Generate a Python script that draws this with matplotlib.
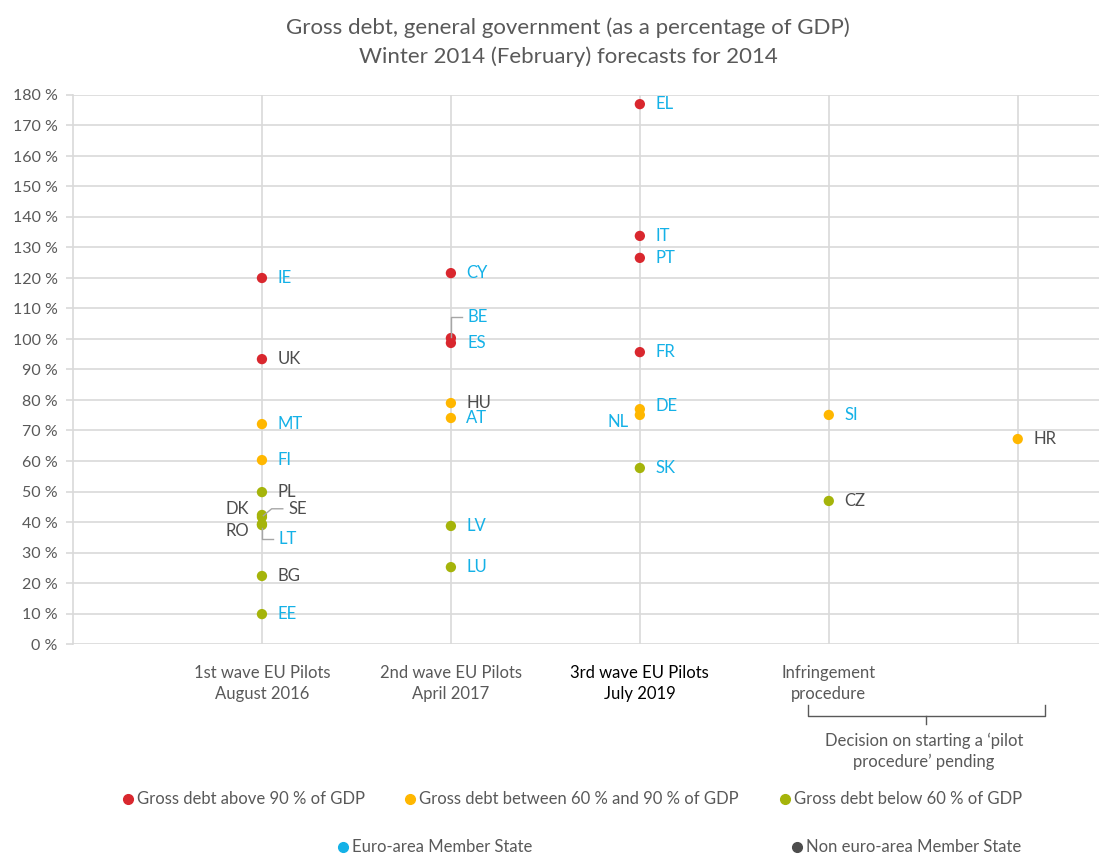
import matplotlib
matplotlib.use("Agg")
import matplotlib.pyplot as plt
from matplotlib.lines import Line2D

plt.rcParams['font.family'] = ['Lato', 'DejaVu Sans']

# Groups on the x axis
groups = ["1st wave EU Pilots\nAugust 2016", "2nd wave EU Pilots\nApril 2017",
          "3rd wave EU Pilots\nJuly 2019", "Infringement\nprocedure", ""]

# Member states, their group index, 2014 gross-debt forecast (% of GDP), euro-area flag
countries = ["IE", "UK", "MT", "FI", "PL", "DK", "SE", "RO", "LT", "BG", "EE",
             "CY", "BE", "ES", "HU", "AT", "LV", "LU",
             "EL", "IT", "PT", "FR", "DE", "NL", "SK",
             "SI", "CZ", "HR"]
group_idx = [0, 0, 0, 0, 0, 0, 0, 0, 0, 0, 0,
             1, 1, 1, 1, 1, 1, 1,
             2, 2, 2, 2, 2, 2, 2,
             3, 3, 4]
debt = [120.0, 93.4, 72.1, 60.3, 49.8, 42.3, 41.6, 39.3, 39.0, 22.3, 9.8,
        121.6, 100.3, 98.7, 79.0, 74.1, 38.7, 25.2,
        177.0, 133.8, 126.6, 95.7, 77.0, 75.1, 57.7,
        75.1, 46.9, 67.2]
euro_area = [1, 0, 1, 1, 0, 0, 0, 0, 1, 0, 1,
             1, 1, 1, 0, 1, 1, 1,
             1, 1, 1, 1, 1, 1, 1,
             1, 0, 0]

RED, ORANGE, OLIVE = "#d9272e", "#ffb700", "#a5b40a"
CYAN, DARK = "#14b1e7", "#4d4d4d"
GRID = "#d9d9d9"
TXT = "#595959"


def debt_colour(v):
    if v > 90:
        return RED
    if v >= 60:
        return ORANGE
    return OLIVE


def fx(px):
    return px / 1099


def fy(py):
    return 1 - py / 855


fig = plt.figure(figsize=(10.99, 8.55), dpi=100)
ax = fig.add_axes([fx(73), fy(644), 1 - fx(73), (644 - 95) / 855])

ax.set_xlim(-1, 4.43)
ax.set_ylim(0, 180)
ax.set_yticks(range(0, 181, 10))
ax.set_yticklabels([f"{t} %" for t in range(0, 181, 10)])
ax.set_xticks(range(5))
ax.set_xticklabels([])
ax.grid(True, color=GRID, linewidth=1.2)
ax.set_axisbelow(True)
for s in ["top", "right", "bottom"]:
    ax.spines[s].set_visible(False)
ax.spines["left"].set_color(GRID)
ax.spines["left"].set_linewidth(1.2)
ax.tick_params(axis="y", colors=GRID, labelcolor=TXT, labelsize=11.5, length=5, width=1.2, pad=6)
ax.tick_params(axis="x", length=0)

ax.scatter(group_idx, debt, c=[debt_colour(v) for v in debt], s=55, zorder=3, linewidths=0)

# label placement (offset in points, alignment)
offsets = {"DK": (-9, 4, "right"), "RO": (-9, -5, "right"), "NL": (-8, -5, "right"),
           "SE": (19, 6, "left"), "LT": (12, -10, "left"), "BE": (12, 15, "left"),
           "ES": (12, 0, "left"), "DE": (11, 2, "left")}
for c, g, v, e in zip(countries, group_idx, debt, euro_area):
    dx, dy, ha = offsets.get(c, (11, 0, "left"))
    ax.annotate(c, (g, v), xytext=(dx, dy), textcoords="offset points",
                ha=ha, va="center", fontsize=12, color=CYAN if e else DARK)


# leader lines for crowded labels (path in points relative to the marker)
def leader(c, path):
    i = countries.index(c)
    base = ax.transData.transform((group_idx[i], debt[i]))
    xs = [base[0] + p[0] * fig.dpi / 72 for p in path]
    ys = [base[1] + p[1] * fig.dpi / 72 for p in path]
    fig.add_artist(Line2D(xs, ys, color="#a6a6a6", linewidth=1, transform=None, zorder=2))


leader("SE", [(1, 1), (7, 6), (15, 6)])
leader("LT", [(0, -2), (0, -10), (8, -10)])
leader("BE", [(0, 1), (0, 15), (8, 15)])

# group labels
for i, lab in enumerate(groups[:4]):
    ax.text(i, -7, lab, ha="center", va="top", fontsize=12,
            color="black" if i == 2 else TXT, linespacing=1.35)

# bracket spanning the last two groups
fig.add_artist(Line2D([fx(808), fx(808), fx(1045), fx(1045)],
                      [fy(705), fy(716), fy(716), fy(705)], color=TXT, linewidth=1))
fig.add_artist(Line2D([fx(926), fx(926)], [fy(716), fy(724)], color=TXT, linewidth=1))
fig.text(fx(924), fy(733), "Decision on starting a \u2018pilot\nprocedure\u2019 pending",
         ha="center", va="top", fontsize=12, color=TXT, linespacing=1.35)

# title
fig.text(fx(568), fy(28), "Gross debt, general government (as a percentage of GDP)",
         ha="center", va="center", fontsize=16, color=TXT)
fig.text(fx(568), fy(57), "Winter 2014 (February) forecasts for 2014",
         ha="center", va="center", fontsize=16, color=TXT)

# legends
legend_rows = [
    [(128, RED, "Gross debt above 90 % of GDP"),
     (410, ORANGE, "Gross debt between 60 % and 90 % of GDP"),
     (785, OLIVE, "Gross debt below 60 % of GDP")],
    [(343, CYAN, "Euro-area Member State"),
     (797, DARK, "Non euro-area Member State")],
]
for row, py in zip(legend_rows, [799, 847]):
    for px, col, lab in row:
        fig.add_artist(Line2D([fx(px)], [fy(py)], marker="o", markersize=7,
                              color=col, linestyle="none"))
        fig.text(fx(px + 9), fy(py), lab, ha="left", va="center", fontsize=12, color=TXT)

fig.savefig("out.png", dpi=100)
